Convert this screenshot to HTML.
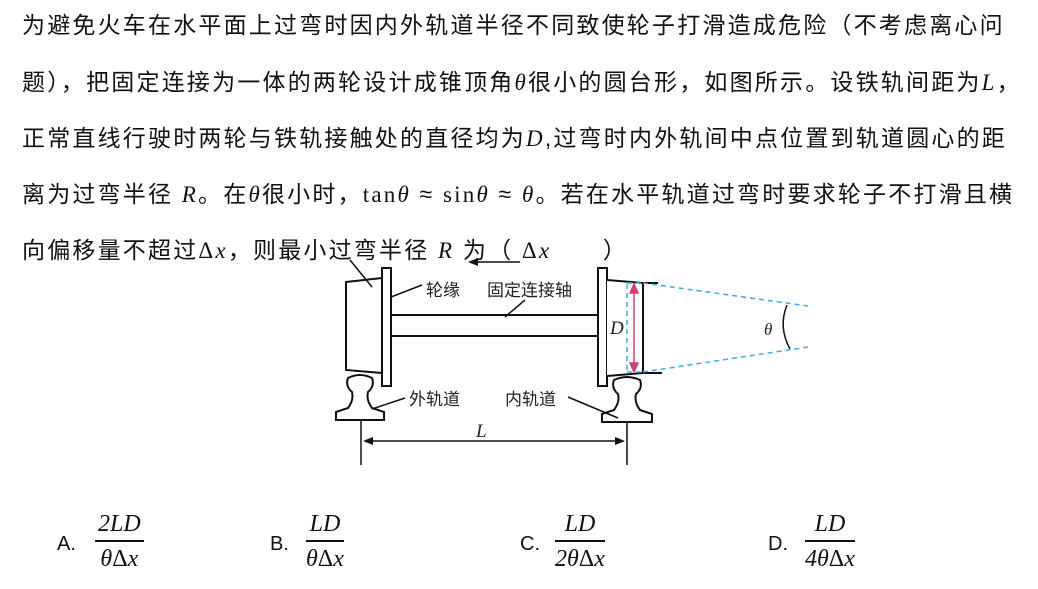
<!DOCTYPE html>
<html><head><meta charset="utf-8"><style>
body{margin:0;width:1038px;height:589px;background:#fff;position:relative;overflow:hidden;font-family:"Liberation Sans","Noto Sans CJK SC",sans-serif;color:#111}
.l{position:absolute;left:22px;white-space:nowrap;font-size:23px;letter-spacing:2.2px;line-height:30px}
i{font-family:"Liberation Serif",serif;font-style:italic}
.m{font-family:"Liberation Serif",serif}
.opt{position:absolute;font-size:20px;top:533px}
.fr{position:absolute;text-align:center;font-family:"Liberation Serif",serif;font-style:italic;font-size:24px}
.fr .n{border-bottom:2px solid #111;padding:0 3px 3px;line-height:26px}
.fr .d{line-height:34px}
</style></head><body>
<div class="l" style="top:10px">为避免火车在水平面上过弯时因内外轨道半径不同致使轮子打滑造成危险（不考虑离心问</div>
<div class="l" style="top:67px">题），把固定连接为一体的两轮设计成锥顶角<i>θ</i>很小的圆台形，如图所示。设铁轨间距为<i>L</i>，</div>
<div class="l" style="top:123px">正常直线行驶时两轮与铁轨接触处的直径均为<i>D</i>,过弯时内外轨间中点位置到轨道圆心的距</div>
<div class="l" style="top:179px">离为过弯半径 <i>R</i>。在<i>θ</i>很小时，<span class="m">tan</span><i>θ</i> ≈ <span class="m">sin</span><i>θ</i> ≈ <i>θ</i>。若在水平轨道过弯时要求轮子不打滑且横</div>
<div class="l" style="top:235px">向偏移量不超过<span class="m">Δ</span><i>x</i>，则最小过弯半径 <i>R</i> 为（ <span class="m">Δ</span><i>x</i> &nbsp;&nbsp;&nbsp;&nbsp; ）</div>
<svg style="position:absolute;left:0;top:0" width="1038" height="589">
<g stroke="#111" stroke-width="2" fill="#fff">
<path d="M346,282 L382,278 L382,373 L346,370 Z"/>
<rect x="382" y="268" width="9" height="118"/>
<rect x="391" y="315" width="207" height="21"/>
<rect x="598" y="268" width="9" height="118"/>
<path d="M607,280 L643,283 L643,373 L607,376" fill="#fff"/>
<line x1="643" y1="283" x2="658" y2="283"/>
<line x1="643" y1="373" x2="662" y2="373"/>
<path d="M348,378 Q360,372 372,378 Q375,386 368,392 Q366,400 372,408 L384,412 L384,420 L336,420 L336,412 L348,408 Q354,400 352,392 Q345,386 348,378 Z"/>
<path d="M614,380 Q627,374 640,380 Q643,388 636,394 Q634,402 640,410 L652,414 L652,422 L602,422 L602,414 L614,410 Q620,402 618,394 Q611,388 614,380 Z"/>
</g>
<g stroke="#111" stroke-width="1.5" fill="none">
<line x1="361" y1="420" x2="361" y2="465"/>
<line x1="627" y1="422" x2="627" y2="465"/>
<line x1="366" y1="441" x2="622" y2="441"/>
<line x1="391" y1="297" x2="422" y2="285"/>
<line x1="505" y1="317" x2="525" y2="300"/>
<line x1="372" y1="409" x2="405" y2="398"/>
<line x1="568" y1="397" x2="618" y2="418"/>
<line x1="350" y1="260" x2="372" y2="287"/>
<line x1="472" y1="262" x2="520" y2="262"/>
<path d="M787,305 Q778,327 790,349"/>
</g>
<path d="M363,441 L373,437 L373,445 Z M625,441 L615,437 L615,445 Z M468,262 L478,258 L478,266 Z" fill="#111"/>
<g stroke="#3aaee0" stroke-width="1.5" stroke-dasharray="5,4" fill="none">
<line x1="627" y1="284" x2="627" y2="372"/>
<line x1="643" y1="283" x2="808" y2="306"/>
<line x1="643" y1="372" x2="808" y2="347"/>
<line x1="627" y1="283" x2="643" y2="283"/>
<line x1="627" y1="372" x2="643" y2="372"/>
</g>
<g stroke="#d0407a" stroke-width="1.5" fill="#d0407a">
<line x1="634" y1="290" x2="634" y2="366"/>
<path d="M634,284 L630,293 L638,293 Z M634,372 L630,363 L638,363 Z"/>
</g>
<g font-family="Liberation Sans,Noto Sans CJK SC,sans-serif" font-size="17" fill="#222">
<text x="426" y="296">轮缘</text>
<text x="487" y="296">固定连接轴</text>
<text x="409" y="405">外轨道</text>
<text x="505" y="405">内轨道</text>
</g>
<g font-family="Liberation Serif,serif" font-style="italic" font-size="19" fill="#222">
<text x="610" y="334">D</text>
<text x="476" y="437">L</text>
<text x="764" y="335" font-size="17">θ</text>
</g>
</svg>
<div class="opt" style="left:57px">A.</div>
<div class="fr" style="left:95px;top:511px"><div class="n">2<i>LD</i></div><div class="d"><i>θ</i><span style="font-style:normal">Δ</span><i>x</i></div></div>
<div class="opt" style="left:270px">B.</div>
<div class="fr" style="left:306px;top:511px"><div class="n"><i>LD</i></div><div class="d"><i>θ</i><span style="font-style:normal">Δ</span><i>x</i></div></div>
<div class="opt" style="left:520px">C.</div>
<div class="fr" style="left:555px;top:511px"><div class="n"><i>LD</i></div><div class="d">2<i>θ</i><span style="font-style:normal">Δ</span><i>x</i></div></div>
<div class="opt" style="left:768px">D.</div>
<div class="fr" style="left:805px;top:511px"><div class="n"><i>LD</i></div><div class="d">4<i>θ</i><span style="font-style:normal">Δ</span><i>x</i></div></div>
</body></html>
